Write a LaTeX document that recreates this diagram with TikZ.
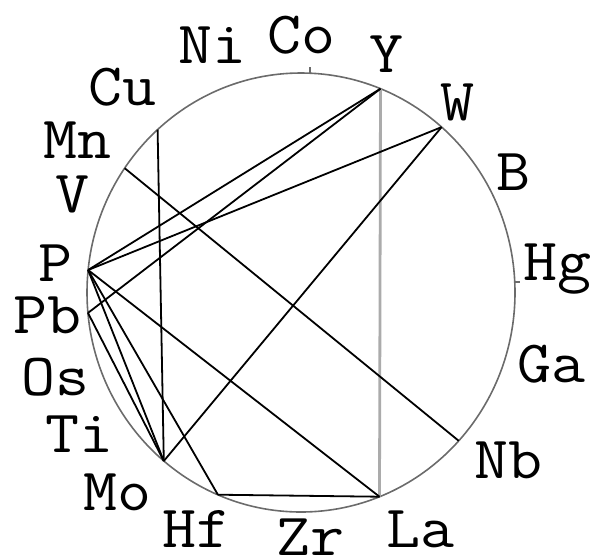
\documentclass[tikz,border=0pt]{standalone}
\usepackage{fontspec}
\newfontfamily\lblfont{Latin Modern Mono}[FakeStretch=1.1]
\begin{document}
\begin{tikzpicture}[x=1pt,y=-1pt,
  lab/.style={font=\lblfont\fontsize{60}{60}\selectfont, inner sep=0pt, anchor=base, text height=37pt, text depth=0pt},
  edge/.style={line width=1.8pt, black},
  ring/.style={line width=1.6pt, black!58},
  pale/.style={line width=2.8pt, black!33}]
\useasboundingbox (0,0) rectangle (596,558);
% points on the ring
\coordinate (Y) at (380.5,88.7);
\coordinate (W) at (441.6,127.1);
\coordinate (Cu) at (157.6,129.6);
\coordinate (Mn) at (124.7,168.2);
\coordinate (P) at (88.1,270);
\coordinate (Pb) at (88,312.9);
\coordinate (Mo) at (163.8,461);
\coordinate (Hf) at (217.9,494.7);
\coordinate (La) at (379.5,496.7);
\coordinate (Nb) at (458.7,440.8);
\coordinate (Co) at (310,73.2);
\coordinate (CoT) at (310,67);
\coordinate (Hg) at (514.8,282);
\coordinate (HgT) at (520,282);
\coordinate (Ctr) at (301,292.5);
% ring
\draw[ring] (Ctr) ellipse [x radius=214pt, y radius=219.5pt];
\draw[ring] (Co) -- (CoT);
\draw[ring] (Hg) -- (HgT);
% chords
\draw[pale] (Y) -- (La);
\draw[edge] (Cu) -- (Mo);
\draw[edge] (Mn) -- (Nb);
\draw[edge] (Y) -- (P);
\draw[edge] (Y) -- (Pb);
\draw[edge] (W) -- (P);
\draw[edge] (W) -- (Mo);
\draw[edge] (P) -- (La);
\draw[edge] (P) -- (Mo);
\draw[edge] (P) -- (Hf);
\draw[edge] (Pb) -- (Mo);
\draw[edge] (Hf) -- (La);
% labels
\node[lab] (lNi) at (212,63) {Ni};
\node[lab] (lCo) at (301,53) {Co};
\node[lab] (lY) at (386,72) {Y};
\node[lab] (lW) at (457,120) {W};
\node[lab] (lB) at (513,190) {B};
\node[lab] (lHg) at (557,280) {Hg};
\node[lab] (lGa) at (551,382) {Ga};
\node[lab] (lNb) at (508,478) {Nb};
\node[lab] (lLa) at (420,547) {La};
\node[lab] (lZr) at (310,555) {Zr};
\node[lab] (lHf) at (196,547) {Hf};
\node[lab] (lMo) at (117,510) {Mo};
\node[lab] (lTi) at (79,452) {Ti};
\node[lab] (lOs) at (55,395) {Os};
\node[lab] (lPb) at (47,333) {Pb};
\node[lab] (lP) at (55,281) {P};
\node[lab] (lV) at (72,212) {V};
\node[lab] (lMn) at (77,158) {Mn};
\node[lab] (lCu) at (122,105) {Cu};
\end{tikzpicture}
\end{document}
